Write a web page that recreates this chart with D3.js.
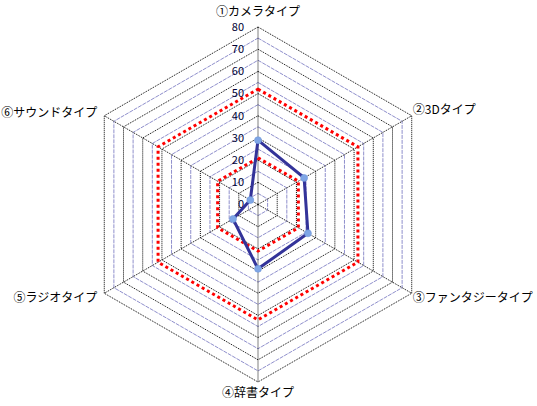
<!DOCTYPE html>
<html>
<head>
<meta charset="utf-8">
<script src="https://cdn.jsdelivr.net/npm/d3@7"></script>
<style>
body { margin: 0; background: #fff; }
text { font-family: "Noto Sans CJK JP", "DejaVu Sans", sans-serif; font-size: 11px; }
text.cat { font-size: 12px; }
</style>
</head>
<body>
<div id="chart"></div>
<script>
var categories = ["①カメラタイプ", "②3Dタイプ", "③ファンタジータイプ", "④辞書タイプ", "⑤ラジオタイプ", "⑥サウンドタイプ"];
var seriesMain = [29, 24, 26, 29, 13, 4];
var seriesOuter = [52, 52, 52, 52, 52, 52];
var seriesInner = [21, 21, 21, 21, 21, 21];
var tickValues = [0, 10, 20, 30, 40, 50, 60, 70, 80];

var w = 537, h = 406;
var cx = 258, cy = 204.5, R = 177.5;

var svg = d3.select("#chart").append("svg")
	.attr("width", w)
	.attr("height", h);

var r = d3.scaleLinear().domain([0, 80]).range([0, R]);
var angle = d3.scaleLinear().domain([0, categories.length]).range([0, 2 * Math.PI]);

function pt(i, v) {
	var a = angle(i);
	return [cx + r(v) * Math.sin(a), cy - r(v) * Math.cos(a)];
}

var line = d3.line()
	.x(function(d) { return d[0]; })
	.y(function(d) { return d[1]; })
	.curve(d3.curveLinearClosed);

// grid rings, minor every 5, major every 10
var rings = d3.range(5, 81, 5);
svg.selectAll("path.ring")
	.data(rings)
	.enter()
	.append("path")
	.attr("class", "ring")
	.attr("d", function(v) {
		return line(categories.map(function(c, i) { return pt(i, v); }));
	})
	.attr("fill", "none")
	.attr("stroke", function(v) { return v % 10 === 0 ? "#000" : "#8f8fcc"; })
	.attr("stroke-width", 1)
	.attr("stroke-dasharray", function(v) { return v % 10 === 0 ? "1,1" : "4,1"; });

// spokes
svg.selectAll("line.spoke")
	.data(categories)
	.enter()
	.append("line")
	.attr("class", "spoke")
	.attr("x1", cx)
	.attr("y1", cy)
	.attr("x2", function(d, i) { return pt(i, 80)[0]; })
	.attr("y2", function(d, i) { return pt(i, 80)[1]; })
	.attr("stroke", "#000")
	.attr("stroke-dasharray", "1,1");

// tick labels
svg.selectAll("text.tick")
	.data(tickValues)
	.enter()
	.append("text")
	.attr("class", "tick")
	.attr("x", cx - 14)
	.attr("y", function(v) { return cy - r(v); })
	.attr("dy", "0.35em")
	.attr("text-anchor", "end")
	.attr("fill", "#000033")
	.text(function(v) { return v; });

// red dotted series
[seriesOuter, seriesInner].forEach(function(s) {
	svg.append("path")
		.attr("d", line(s.map(function(v, i) { return pt(i, v); })))
		.attr("fill", "none")
		.attr("stroke", "#ff0000")
		.attr("stroke-width", 3)
		.attr("stroke-dasharray", "3,3");
});

// main series
svg.append("path")
	.attr("d", line(seriesMain.map(function(v, i) { return pt(i, v); })))
	.attr("fill", "none")
	.attr("stroke", "#333399")
	.attr("stroke-width", 3);

svg.selectAll("circle.mark")
	.data(seriesMain)
	.enter()
	.append("circle")
	.attr("class", "mark")
	.attr("cx", function(d, i) { return pt(i, d)[0]; })
	.attr("cy", function(d, i) { return pt(i, d)[1]; })
	.attr("r", 3.5)
	.attr("fill", "#7fa6e6")
	.attr("stroke", "#6b93d6")
	.attr("stroke-width", 0.5);

// category labels
var labelPos = [
	{ dx: 0, dy: -15, anchor: "middle" },
	{ dx: 1, dy: -6, anchor: "start" },
	{ dx: 1, dy: 5, anchor: "start" },
	{ dx: 0, dy: 11, anchor: "middle" },
	{ dx: -7, dy: 5, anchor: "end" },
	{ dx: -7, dy: -3, anchor: "end" }
];
svg.selectAll("text.cat")
	.data(categories)
	.enter()
	.append("text")
	.attr("class", "cat")
	.attr("x", function(d, i) { return pt(i, 80)[0] + labelPos[i].dx; })
	.attr("y", function(d, i) { return pt(i, 80)[1] + labelPos[i].dy; })
	.attr("dy", "0.35em")
	.attr("text-anchor", function(d, i) { return labelPos[i].anchor; })
	.attr("fill", "#000")
	.text(function(d) { return d; });
</script>
</body>
</html>
